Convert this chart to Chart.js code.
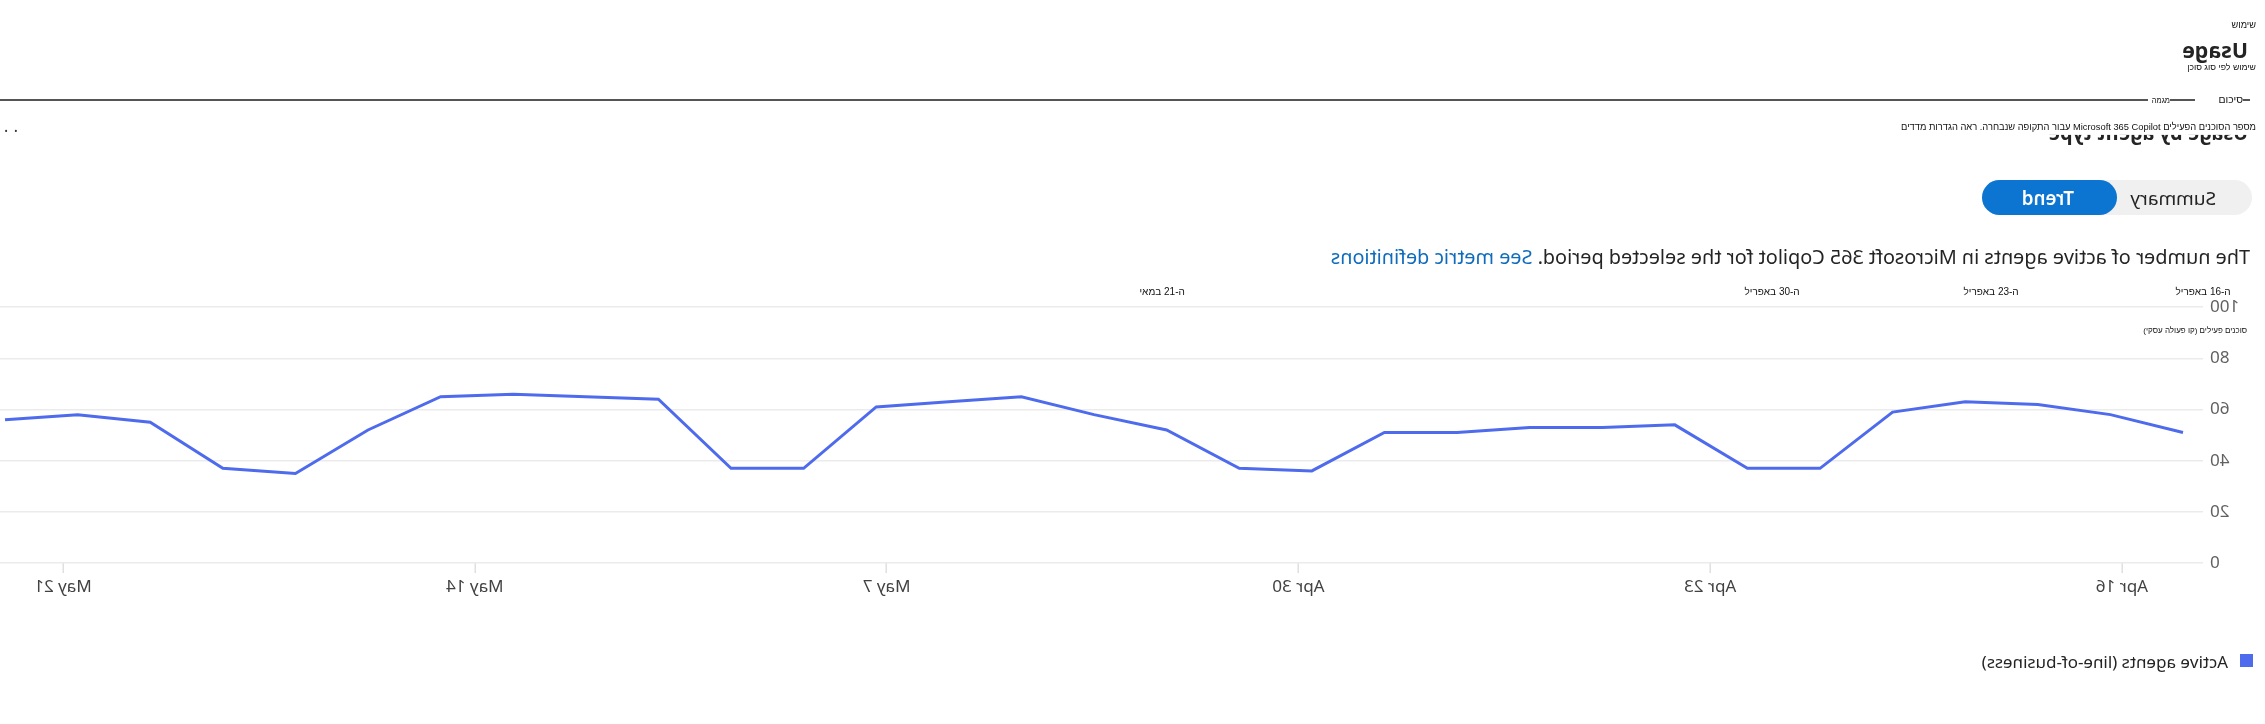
<!DOCTYPE html>
<html>
<head>
<meta charset="utf-8">
<script src="https://cdn.jsdelivr.net/npm/chart.js@4.4.1/dist/chart.umd.min.js"></script>
<style>
  html, body { margin: 0; padding: 0; background: #fff; overflow: hidden; }
  body { width: 2265px; height: 724px; position: relative; font-family: "Noto Sans", "Open Sans", sans-serif; color: #242424; }
  /* the captured page is mirrored left-right, the translated Hebrew labels are not */
  #page { position: absolute; left: 0; top: 0; width: 2265px; height: 724px; transform: scaleX(-1); }
  #overlay { position: absolute; left: 0; top: 0; width: 2265px; height: 724px; }
  .t { position: absolute; white-space: nowrap; line-height: 1.2; transform: translateY(-50%); }
  .he { font-family: "Liberation Sans", "DejaVu Sans", sans-serif; color: #111; direction: rtl; }
  .rule { position: absolute; height: 1.5px; background: #555; }
  #toggle { position: absolute; left: 13px; top: 180px; width: 270px; height: 35px; border-radius: 18px; background: #f0f0f0; }
  #trendPill { position: absolute; left: 148px; top: 180px; width: 135px; height: 35px; border-radius: 18px; background: #0c74d1; }
  #chartBox { position: absolute; left: 0; top: 290px; }
  a { color: #0f6cbd; text-decoration: none; }
</style>
</head>
<body>
<div id="page">
  <div class="t" id="h1" style="left:17px; top:50px; font-size:22px; font-weight:700;">Usage</div>
  <div class="t" id="h2" style="left:17px; top:133px; font-size:19px; font-weight:700;">Usage by agent type</div>
  <div class="t" style="left:2247px; top:127px; font-size:16px; letter-spacing:5.5px; color:#333;">...</div>
  <div id="toggle"></div>
  <div id="trendPill"></div>
  <div class="t" id="tSummary" style="top:198px; font-size:17px; color:#242424;">Summary</div>
  <div class="t" id="tTrend" style="top:198px; font-size:17px; font-weight:600; color:#fff;">Trend</div>
  <div class="t" id="desc" style="left:15px; top:257px; font-size:17px;">The number of active agents in Microsoft 365 Copilot for the selected period. <a href="#">See metric definitions</a></div>
  <div id="chartBox"><canvas id="chartUsage" width="2265" height="313"></canvas></div>
  <div id="legendBox" style="position:absolute; left:12px; top:654px; width:13px; height:13px;"></div>
  <div class="t" id="legendText" style="left:37px; top:662px; font-size:16px;"></div>
</div>

<div id="overlay">
  <div class="t he" id="he1" style="right:9px; top:26px; font-size:10px;">שימוש</div>
  <div class="t he" id="he2" style="right:9px; top:67px; font-size:10px;">שימוש לפי סוג סוכן</div>
  <div class="rule" style="left:0; width:2148px; top:99px;"></div>
  <div class="rule" style="left:2170px; width:25px; top:99px;"></div>
  <div class="rule" style="left:2243px; width:7px; top:99px;"></div>
  <div class="t he" id="he3" style="right:95px; top:100px; font-size:10px;">מגמה</div>
  <div class="t he" id="he4" style="right:22px; top:100px; font-size:10px;">סיכום</div>
  <div class="t he" id="he5" style="right:9px; top:128px; font-size:10px; background:#fff; padding:1px 0 2px 2px;">מספר הסוכנים הפעילים Microsoft 365 Copilot עבור התקופה שנבחרה. ראה הגדרות מדדים</div>
  <div class="t he" id="he6" style="right:18px; top:331px; font-size:9px;">סוכנים פעילים (קו פעולה עסקי)</div>
  <div class="t he dl" style="left:2203px; top:292px; font-size:10px;">ה-16 באפריל</div>
  <div class="t he dl" style="left:1991px; top:292px; font-size:10px;">ה-23 באפריל</div>
  <div class="t he dl" style="left:1772px; top:292px; font-size:10px;">ה-30 באפריל</div>
  <div class="t he dl" style="left:1162px; top:292px; font-size:10px;">ה-21 במאי</div>
</div>

<script>
// values, earliest first
const seriesLabel = 'Active agents (line-of-business)';
const seriesColor = '#4f6bed';
const agentCounts = [51, 58, 62, 63, 59, 37, 37, 54, 53, 53, 51, 51, 36, 37, 52, 58,
                     65, 63, 61, 37, 37, 64, 65, 66, 65, 52, 35, 37, 55, 58, 56];
const weekLabels = ['Apr 16', 'Apr 23', 'Apr 30', 'May 7', 'May 14', 'May 21'];
const yTickValues = [0, 20, 40, 60, 80, 100];

// scale text so it takes the same width as in the capture
function fitWidth(id, w) {
  const el = document.getElementById(id);
  const fs = parseFloat(getComputedStyle(el).fontSize);
  el.style.fontSize = (fs * w / el.offsetWidth) + 'px';
}
function centerAt(el, cx) {
  el.style.left = (cx - el.offsetWidth / 2) + 'px';
}

fitWidth('h1', 66);
fitWidth('h2', 200);
fitWidth('tSummary', 86);
fitWidth('tTrend', 52);
fitWidth('desc', 919);
fitWidth('he1', 24);
fitWidth('he2', 69);
fitWidth('he3', 18);
fitWidth('he4', 25);
fitWidth('he5', 358);
fitWidth('he6', 104);
centerAt(document.getElementById('tSummary'), 92);
centerAt(document.getElementById('tTrend'), 217);
document.querySelectorAll('.dl').forEach(el => centerAt(el, parseFloat(el.style.left)));

document.getElementById('legendBox').style.background = seriesColor;
document.getElementById('legendText').textContent = seriesLabel;
fitWidth('legendText', 246);

const font = { family: '"Noto Sans", "Open Sans", sans-serif', size: 17 };

new Chart(document.getElementById('chartUsage').getContext('2d'), {
  type: 'line',
  data: {
    datasets: [{
      label: seriesLabel,
      data: agentCounts.map((v, i) => ({ x: i, y: v })),
      xAxisID: 'x',
      borderColor: seriesColor,
      borderWidth: 3,
      pointRadius: 0,
      tension: 0,
      fill: false
    }]
  },
  options: {
    responsive: false,
    animation: false,
    layout: { padding: { top: 17, left: 0, right: 0, bottom: 0 } },
    plugins: { legend: { display: false }, tooltip: { enabled: false } },
    scales: {
      // data positions (one step per point)
      x: { type: 'linear', display: false, min: -0.2755, max: 30.069 },
      // weekly date ticks
      xd: {
        type: 'linear',
        position: 'bottom',
        min: -0.1967,
        max: 5.153,
        afterBuildTicks: axis => { axis.ticks = weekLabels.map((l, i) => ({ value: i })); },
        afterFit: axis => { axis.height = 40; },
        border: { display: false },
        grid: { display: true, drawOnChartArea: false, drawTicks: true, tickLength: 10, color: '#e0e0e0', lineWidth: 1.5 },
        ticks: {
          autoSkip: false, maxRotation: 0, padding: 4, color: '#424242', font: font,
          callback: v => weekLabels[v]
        }
      },
      y: {
        min: 0,
        max: 100,
        afterBuildTicks: axis => { axis.ticks = yTickValues.map(v => ({ value: v })); },
        afterFit: axis => { axis.width = 62; },
        border: { display: false },
        grid: { color: '#ebebeb', lineWidth: 1.5, drawTicks: false },
        ticks: { padding: 7, color: '#616161', font: font }
      }
    }
  }
});
</script>
</body>
</html>
